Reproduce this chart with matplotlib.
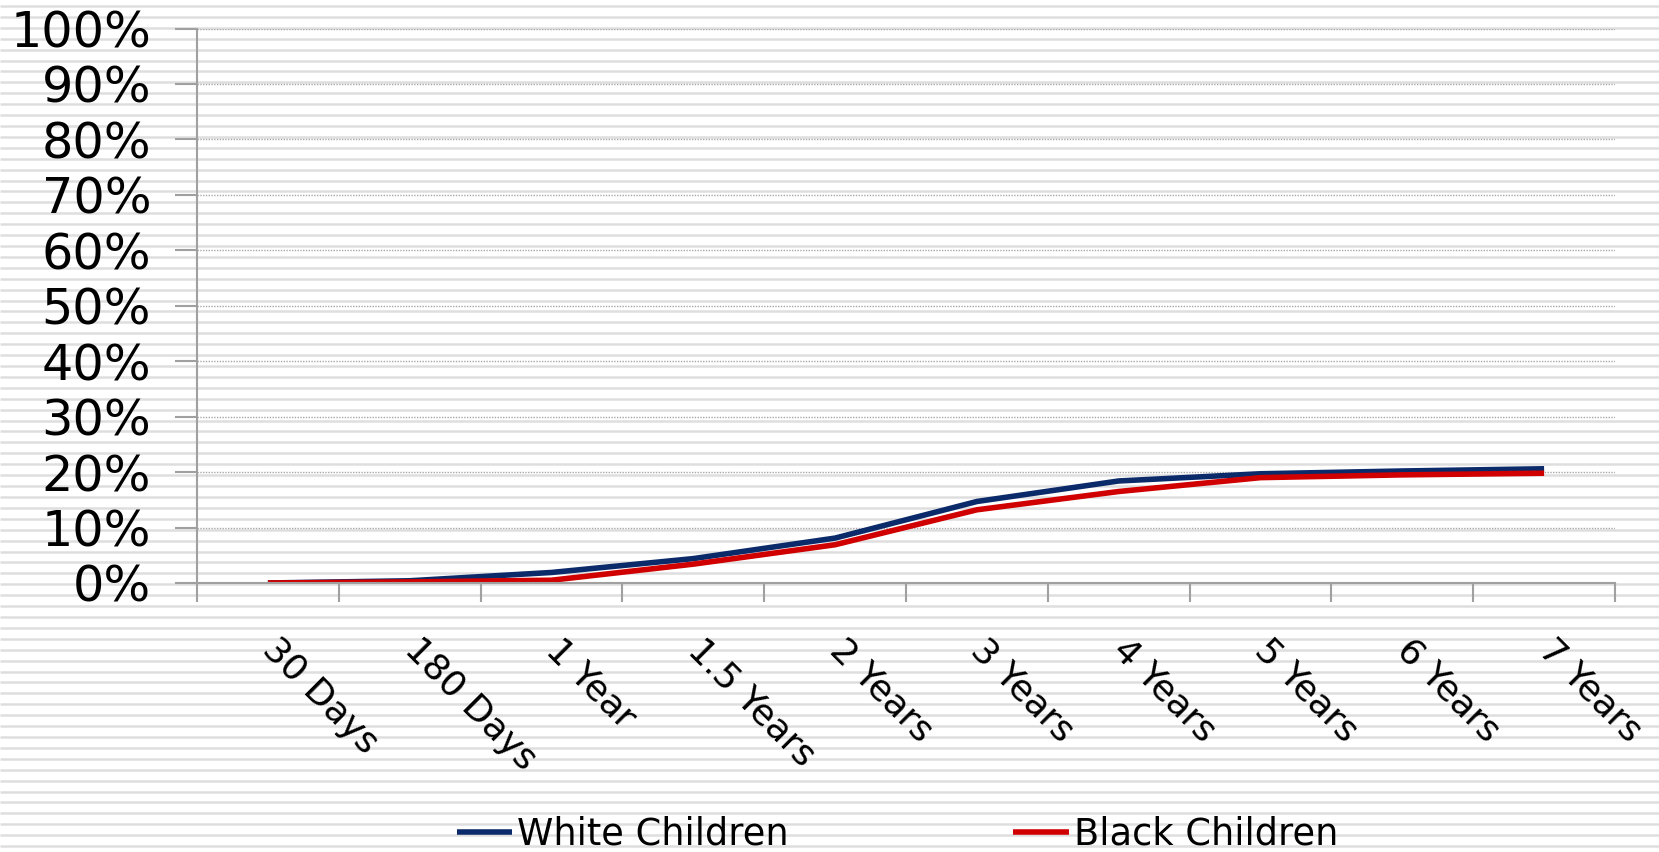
import numpy as np
import matplotlib
matplotlib.use('Agg')
import matplotlib.pyplot as plt
from matplotlib.ticker import FixedLocator, PercentFormatter

# follow-up periods and share of children (%) for each group
periods = ['30 Days', '180 Days', '1 Year', '1.5 Years', '2 Years',
           '3 Years', '4 Years', '5 Years', '6 Years', '7 Years']
white_children = [0.0, 0.4, 1.9, 4.4, 8.1, 14.7, 18.4, 19.7, 20.2, 20.6]
black_children = [0.0, 0.2, 0.5, 3.4, 6.9, 13.2, 16.5, 19.0, 19.5, 19.8]

W, H = 1659, 852
fig = plt.figure(figsize=(W / 100, H / 100), dpi=100)
fig.patch.set_facecolor('white')

# striped background
bg = fig.add_axes([0, 0, 1, 1], zorder=-10)
bg.axis('off')
bg.set_xlim(0, 1)
bg.set_ylim(H, 0)
bg.hlines(np.arange(6, H, 10.91), 0, 1, color='#dedede', lw=1.8)

ax = fig.add_axes([197 / W, 1 - 583 / H, (1615 - 197) / W, (583 - 28.5) / H])
ax.set_facecolor('none')

x = np.arange(len(periods))
ax.plot(x, white_children, color='#0b2a6a', lw=4, solid_capstyle='butt',
        label='White Children')
ax.plot(x, black_children, color='#d00000', lw=4, solid_capstyle='butt',
        label='Black Children')

ax.set_xlim(-0.5, len(periods) - 0.5)
ax.set_ylim(0, 100)

ax.set_yticks(np.arange(0, 101, 10))
ax.yaxis.set_major_formatter(PercentFormatter(decimals=0))
ax.yaxis.grid(True, color='#a8a8a8', lw=1.0, linestyle=(0, (1, 1)))
ax.set_axisbelow(True)

# Excel style category axis: ticks between categories, labels at centres
ax.xaxis.set_major_locator(FixedLocator(np.arange(-0.5, len(periods), 1)))
ax.xaxis.set_minor_locator(FixedLocator(x))
ax.set_xticklabels([])
ax.set_xticklabels(periods, minor=True)
ax.tick_params(axis='x', which='minor', length=0, pad=44, labelsize=26)
ax.tick_params(axis='x', which='major', length=14, width=1.5, color='#a0a0a0')
for lbl in ax.get_xticklabels(minor=True):
    lbl.set_rotation(-45)
    lbl.set_rotation_mode('anchor')
    lbl.set_ha('left')
    lbl.set_va('center')

ax.tick_params(axis='y', length=16, width=1.5, color='#a0a0a0',
               labelsize=35.5, pad=17)

for side in ['top', 'right']:
    ax.spines[side].set_visible(False)
for side in ['left', 'bottom']:
    ax.spines[side].set_color('#a0a0a0')
    ax.spines[side].set_linewidth(1.5)

leg = fig.legend(loc='center', bbox_to_anchor=(0.541, 1 - 834 / H), ncol=2,
                 frameon=False, fontsize=26.5, handlelength=1.5,
                 handletextpad=0.15, columnspacing=6.1)
for line in leg.get_lines():
    line.set_linewidth(4)

fig.savefig('out.png', dpi=100, facecolor='white')
